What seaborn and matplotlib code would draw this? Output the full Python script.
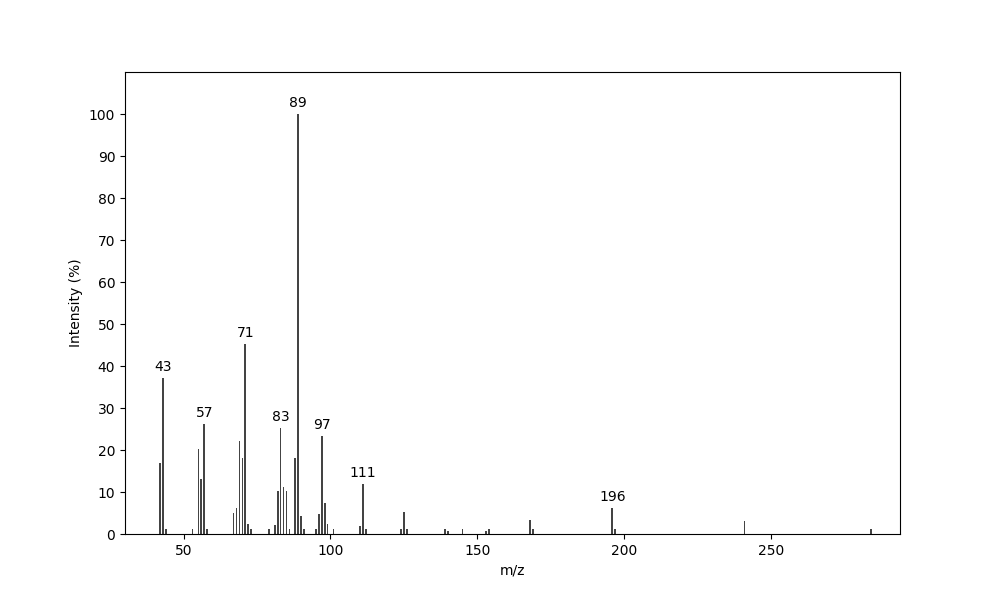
import matplotlib
matplotlib.use('Agg')
import matplotlib.pyplot as plt
import seaborn as sns
import numpy as np
import pandas as pd

# m/z values and relative intensities
mz = [42, 43, 44, 53, 55, 56, 57, 58,
      67, 68, 69, 70, 71, 72, 73,
      79, 81, 82, 83, 84, 85, 86, 88, 89, 90, 91,
      95, 96, 97, 98, 99, 101, 110, 111, 112,
      124, 125, 126, 139, 140, 145, 153, 154, 168, 169,
      196, 197, 241, 284]
intensity = [17.0, 37.1, 1.2, 1.2, 20.3, 13.2, 26.2, 1.2,
             5.1, 6.2, 22.1, 18.2, 45.2, 2.4, 1.2,
             1.2, 2.1, 10.3, 25.2, 11.2, 10.3, 1.2, 18.1, 100.0, 4.3, 1.2,
             1.2, 4.8, 23.3, 7.4, 2.4, 1.2, 1.9, 11.9, 1.2,
             1.2, 5.2, 1.2, 1.2, 0.7, 1.2, 0.7, 1.2, 3.3, 1.2,
             6.2, 1.2, 3.1, 1.2]
labeled_peaks = [43, 57, 71, 83, 89, 97, 111, 196]

df = pd.DataFrame({'mz': mz, 'intensity': intensity})

fig, ax = plt.subplots(figsize=(10, 6), dpi=100)

sns.barplot(data=df, x='mz', y='intensity', native_scale=True,
            width=0.6, color='#444444', saturation=1, ax=ax)

for m in labeled_peaks:
    h = df.loc[df['mz'] == m, 'intensity'].iloc[0]
    ax.text(m, h + 1, str(m), ha='center', va='bottom', fontsize=10)

ax.set_xlim(30, 294)
ax.set_ylim(0, 110)
ax.set_yticks(np.arange(0, 101, 10))
ax.set_xticks([50, 100, 150, 200, 250])
ax.set_xlabel('m/z')
ax.set_ylabel('Intensity (%)')

plt.savefig('out.png', dpi=100)
plt.close()
